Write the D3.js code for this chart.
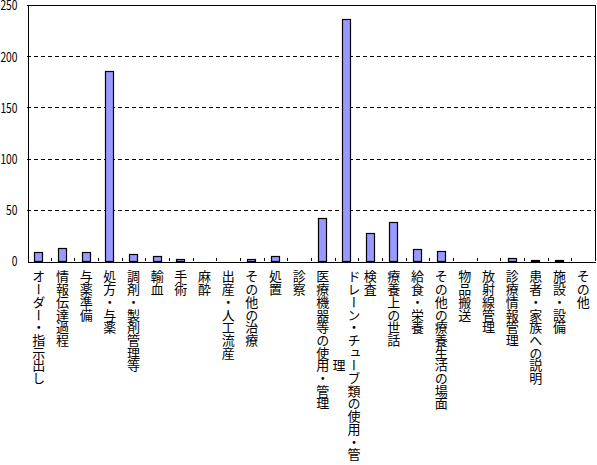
<!DOCTYPE html>
<html><head><meta charset="utf-8">
<script src="https://cdn.jsdelivr.net/npm/d3@7"></script>
<style>body{margin:0;background:#fff}svg{display:block}</style>
</head><body>
<svg id="c" width="597" height="465"></svg>
<script>
const categories = ["オーダー・指示出し","情報伝達過程","与薬準備","処方・与薬","調剤・製剤管理等","輸血","手術","麻酔","出産・人工流産","その他の治療","処置","診察","医療機器等の使用・管理","ドレーン・チューブ類の使用・管理","検査","療養上の世話","給食・栄養","その他の療養生活の場面","物品搬送","放射線管理","診療情報管理","患者・家族への説明","施設・設備","その他"];
const values = [9,13,9,186,7,5,2,0,0,2,5,0,42,236,27,38,12,10,0,0,3,1,1,0];
const yTicks = [0,50,100,150,200,250];

const svg = d3.select("#c");
const L = 27, R = 595, T = 5, B = 261;
const font = "'Noto Sans CJK JP', sans-serif";
const x = d3.scaleBand().domain(categories).range([L, R]).paddingInner(0.62).paddingOuter(0.31);
const y = d3.scaleLinear().domain([0, 250]).range([B, T]);

// gridlines
svg.append("g").selectAll("line").data(yTicks.filter(t => t > 0 && t < 250)).join("line")
  .attr("x1", L).attr("x2", R).attr("y1", d => y(d) + 0.5).attr("y2", d => y(d) + 0.5)
  .attr("stroke", "#000").attr("stroke-dasharray", "4,3").attr("shape-rendering", "crispEdges");

// plot border top/right
svg.append("path").attr("d", `M${L},${T + 0.5}H${R + 0.5}V${B}`).attr("fill", "none")
  .attr("stroke", "#000").attr("shape-rendering", "crispEdges");

// bars
svg.append("g").selectAll("rect").data(values).join("rect")
  .attr("x", (d, i) => Math.round(x(categories[i])) + 0.5)
  .attr("y", d => Math.round(y(d)) + 0.5)
  .attr("width", Math.round(x.bandwidth()) - 1)
  .attr("height", d => Math.max(0, Math.round(B - y(d))))
  .attr("fill", "#9999ff").attr("stroke", "#000").attr("stroke-width", 1.2);

// y axis
const yAxis = d3.axisLeft(y).tickValues(yTicks).tickSize(0).tickPadding(10);
const gy = svg.append("g").attr("transform", `translate(${L + 0.5},0)`).call(yAxis);
gy.select(".domain").attr("stroke", "#000").attr("shape-rendering", "crispEdges");
gy.selectAll("text").attr("font-family", font).attr("font-size", 13).attr("fill", "#000")
  .attr("dy", "0.37em")
  .attr("textLength", d => String(d).length * 5.7).attr("lengthAdjust", "spacingAndGlyphs");

// x axis (ticks inside)
const xAxis = d3.axisBottom(x).tickSize(0).tickFormat("");
const gx = svg.append("g").attr("transform", `translate(0,${B + 0.5})`).call(xAxis);
gx.select(".domain").attr("stroke", "#000").attr("shape-rendering", "crispEdges");
gx.selectAll(".tick").remove();
const step = x.step();
const bounds = d3.range(1, categories.length).map(i => L + i * step);
svg.append("g").selectAll("line").data(bounds).join("line")
  .attr("x1", d => Math.round(d) + 0.5).attr("x2", d => Math.round(d) + 0.5)
  .attr("y1", B - 3).attr("y2", B).attr("stroke", "#000").attr("shape-rendering", "crispEdges");

// vertical category labels
const fs = 13, pitch = 12.7, labelTop = 270, colGap = 15;
const maxChars = Math.floor((465 - labelTop) / pitch);
function vtext(s, xx, yy, anchor) {
  const t = svg.append("text")
    .attr("x", xx).attr("y", yy)
    .attr("text-anchor", anchor)
    .style("writing-mode", "vertical-rl")
    .style("text-orientation", "upright")
    .attr("font-family", font).attr("font-size", fs).attr("fill", "#000")
    .text(s);
  const n = Array.from(s).length;
  const len = t.node().getComputedTextLength();
  const ls = pitch - len / n;
  t.style("letter-spacing", ls + "px");
  return t;
}
categories.forEach(c => {
  const chars = Array.from(c);
  const cols = [];
  for (let i = 0; i < chars.length; i += maxChars) cols.push(chars.slice(i, i + maxChars).join(""));
  const cx = x(c) + x.bandwidth() / 2;
  const firstLen = Array.from(cols[0]).length * pitch;
  cols.forEach((s, k) => {
    const xx = cx + (cols.length - 1) / 2 * colGap - k * colGap;
    if (k === 0) vtext(s, xx, labelTop, "start");
    else vtext(s, xx, labelTop + firstLen / 2 - Array.from(s).length * pitch / 2, "start");
  });
});
</script>
</body></html>
